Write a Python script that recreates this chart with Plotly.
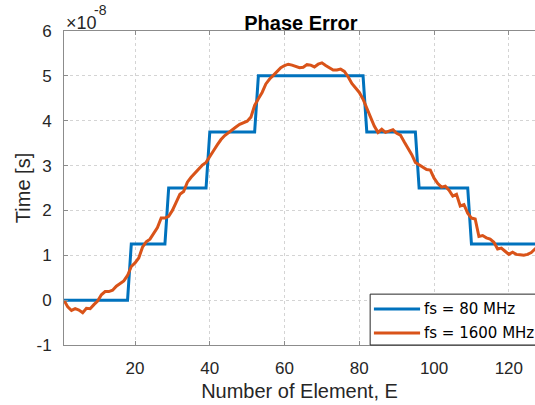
import plotly.graph_objects as go

elements = list(range(1, 129))

# fs = 80 MHz (quantised delay), units of 1e-8 s
fs80 = ([0.0] * 18 + [1.25] * 10 + [2.5] * 11 + [3.75] * 13 + [5.0] * 29
        + [3.75] * 14 + [2.5] * 14 + [1.25] * 19)

# fs = 1600 MHz, units of 1e-8 s
fs1600 = [
    0.00, -0.15, -0.23, -0.19, -0.22, -0.28, -0.18, -0.19, -0.10, -0.02,
    0.12, 0.19, 0.19, 0.22, 0.31, 0.38, 0.43, 0.55, 0.75, 0.83,
    0.94, 1.18, 1.30, 1.36, 1.48, 1.62, 1.83, 1.83, 1.87, 2.00,
    2.18, 2.36, 2.42, 2.63, 2.74, 2.83, 2.93, 3.01, 3.07, 3.19,
    3.33, 3.46, 3.58, 3.67, 3.74, 3.79, 3.86, 3.92, 3.95, 3.99,
    4.08, 4.34, 4.49, 4.63, 4.82, 4.93, 5.01, 5.10, 5.18, 5.23,
    5.26, 5.24, 5.21, 5.18, 5.19, 5.25, 5.24, 5.20, 5.26, 5.29,
    5.23, 5.17, 5.13, 5.13, 5.15, 5.10, 4.98, 4.83, 4.73, 4.63,
    4.48, 4.27, 4.09, 3.88, 3.74, 3.81, 3.74, 3.77, 3.80, 3.72,
    3.68, 3.53, 3.40, 3.25, 3.07, 3.02, 2.96, 2.91, 2.90, 2.72,
    2.60, 2.52, 2.54, 2.45, 2.32, 2.36, 2.10, 2.13, 1.94, 1.83,
    1.81, 1.42, 1.44, 1.39, 1.36, 1.29, 1.14, 1.16, 1.09, 1.02,
    1.07, 1.02, 1.01, 1.00, 1.02, 1.06, 1.14, 1.22,
]

series_names = ["fs = 80 MHz", "fs = 1600 MHz"]
series_colors = ["#0072BD", "#D95319"]

x_ticks = [20, 40, 60, 80, 100, 120]
y_ticks = [-1, 0, 1, 2, 3, 4, 5, 6]
y_tick_text = ["-1", "0", "1", "2", "3", "4", "5", "6"]

FONT = "Liberation Sans, Arial, sans-serif"
LEGFONT = "DejaVu Sans, Liberation Sans, sans-serif"
AXC = "#8c8c8c"
TXT = "#262626"

fig = go.Figure()
for name, col, ys in zip(series_names, series_colors, [fs80, fs1600]):
    fig.add_trace(go.Scatter(x=elements, y=ys, mode="lines", name=name,
                             line=dict(color=col, width=3)))

# legend box drawn in paper coordinates (lower right, running off the edge)
leg_x0, leg_y1 = 0.65, 0.162
row_y = [0.115, 0.038]
shapes = [dict(type="rect", xref="paper", yref="paper", x0=leg_x0, x1=1.05,
               y0=0, y1=leg_y1, line=dict(color=TXT, width=1),
               fillcolor="white", layer="above")]
annotations = []
for name, col, ry in zip(series_names, series_colors, row_y):
    shapes.append(dict(type="line", xref="paper", yref="paper",
                       x0=0.658, x1=0.756, y0=ry, y1=ry,
                       line=dict(color=col, width=3), layer="above"))
    annotations.append(dict(text=name, xref="paper", yref="paper",
                            x=0.760, y=ry, xanchor="left", yanchor="middle",
                            showarrow=False,
                            font=dict(size=15, color="black", family=LEGFONT)))

annotations += [
    dict(text="×10", xref="paper", yref="paper",
         x=0, y=1, xanchor="left", yanchor="bottom", xshift=0,
         showarrow=False, font=dict(size=18, color=TXT), yshift=-4),
    dict(text="-8", xref="paper", yref="paper",
         x=0, y=1, xanchor="left", yanchor="bottom", xshift=28,
         showarrow=False, font=dict(size=14, color=TXT), yshift=11),
]

fig.update_layout(
    width=535, height=405,
    margin=dict(l=64, r=0, t=31, b=60, autoexpand=False),
    paper_bgcolor="white", plot_bgcolor="white",
    font=dict(family=FONT, color=TXT, size=17),
    title=dict(text="<b>Phase Error</b>", font=dict(size=20, color="black"),
               x=0.503, xanchor="center", xref="paper",
               y=1, yanchor="bottom", yref="paper", pad=dict(b=1)),
    showlegend=False,
    xaxis=dict(range=[1, 127], tickvals=x_ticks, ticks="inside", ticklen=4,
               tickcolor=AXC, showline=True, linecolor=AXC, linewidth=1,
               mirror="ticks", showgrid=True, gridcolor="#d4d4d4",
               griddash="dot", zeroline=False,
               tickfont=dict(size=17), ticklabelstandoff=8,
               title=dict(text="Number of Element, E", font=dict(size=20),
                          standoff=6)),
    yaxis=dict(range=[-1, 6], tickvals=y_ticks, ticktext=y_tick_text,
               ticks="inside", ticklen=4, tickcolor=AXC, showline=True,
               linecolor=AXC, linewidth=1, mirror=False, showgrid=True,
               gridcolor="#d4d4d4", griddash="dot", zeroline=False,
               tickfont=dict(size=17), ticklabelstandoff=8,
               title=dict(text="Time [s]", font=dict(size=20), standoff=0)),
    shapes=shapes,
    annotations=annotations,
)

fig.write_html("out.html")
